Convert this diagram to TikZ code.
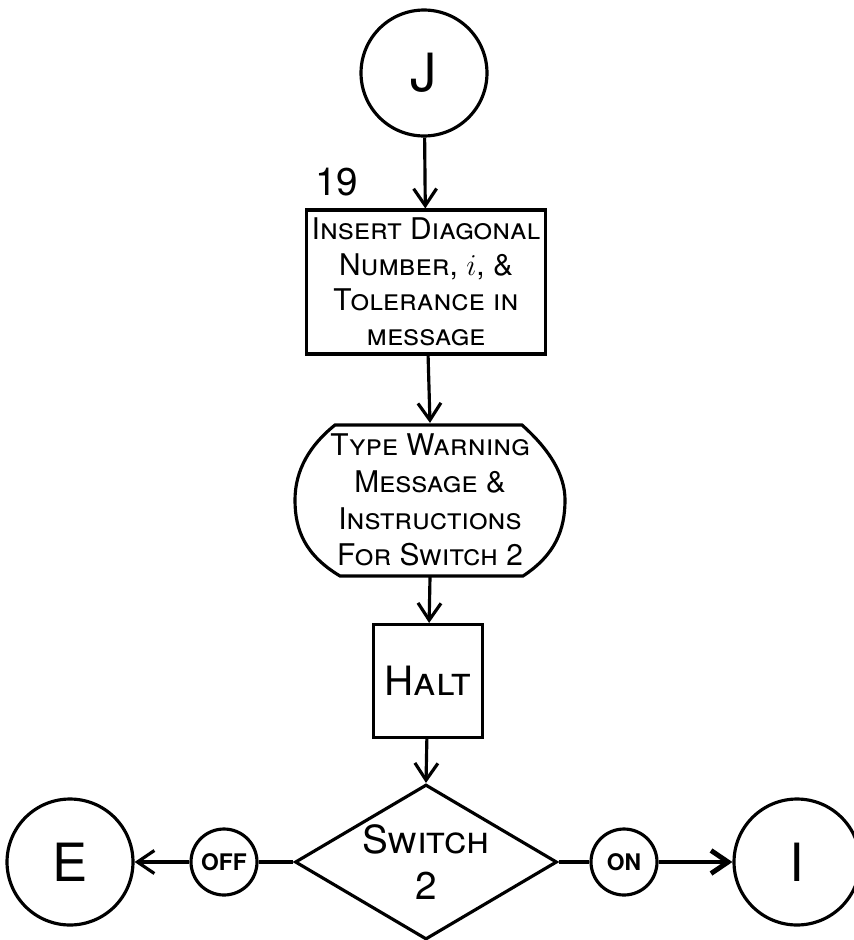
\documentclass[tikz,border=0pt]{standalone}
\usepackage{fontspec}
\setmainfont{TeX Gyre Heros}
\usetikzlibrary{arrows.meta, positioning, shapes.geometric}

\begin{document}
\begin{tikzpicture}[
    x=0.02cm, y=-0.02cm,
    line width=1.8pt,
    conn/.style={draw, circle, minimum size=2.52cm, inner sep=0pt, font=\fontsize{30}{36}\selectfont},
    tag/.style={draw, circle, minimum size=1.32cm, inner sep=0pt, font=\fontsize{13}{15}\selectfont\bfseries},
    proc/.style={draw, align=center, inner sep=0pt, font=\fontsize{17}{20}\selectfont\scshape},
    decide/.style={draw, diamond, aspect=1.7, inner sep=0pt, minimum width=5.24cm, minimum height=3.1cm, align=center, font=\fontsize{22}{26}\selectfont\scshape},
    flow/.style={-{Straight Barb[length=3.4mm, width=4.6mm]}}
]
\useasboundingbox (0,0) rectangle (854,940);

\node[conn] (J) at (424,73) {J};
\node[proc, minimum width=4.78cm, minimum height=2.88cm] (ins) at (426,282) {Insert Diagonal\\Number, $i$, \&\\Tolerance in\\message};
\node[font=\fontsize{22}{26}\selectfont, anchor=south west] (num) at (308,204) {19};

% typewriter output
\node[minimum width=5.4cm, minimum height=3.02cm, align=center, font=\fontsize{17}{21}\selectfont\scshape] (type) at (430,500) {Type Warning\\Message \&\\Instructions\\For Switch 2};
\draw[shift={(type.center)}] (-95,-75) -- (92,-75)
    .. controls (120,-50) and (135,-25) .. (135,0)
    .. controls (135,30) and (125,55) .. (93,76) -- (-90,76)
    .. controls (-125,55) and (-135,30) .. (-135,0)
    .. controls (-135,-30) and (-120,-55) .. (-95,-75) -- cycle;

\node[proc, minimum width=2.18cm, minimum height=2.26cm, font=\fontsize{23}{26}\selectfont\scshape] (halt) at (428,681) {Halt};
\node[decide] (sw) at (426,862) {Switch\\2};

\node[tag] (off) at (224,862) {OFF};
\node[tag] (on) at (624,862) {ON};
\node[conn] (E) at (70,862) {E};
\node[conn] (I) at (797,862) {I};

\draw[flow] (J) -- (ins);
\draw[flow] (ins) -- (type.north);
\draw[flow] (type.south) -- (halt);
\draw[flow] (halt) -- (sw.north);
\draw (sw) -- (off);
\draw[flow] (off) -- (E);
\draw (sw) -- (on);
\draw[flow, line width=2.8pt] (on) -- (I);
\end{tikzpicture}
\end{document}
